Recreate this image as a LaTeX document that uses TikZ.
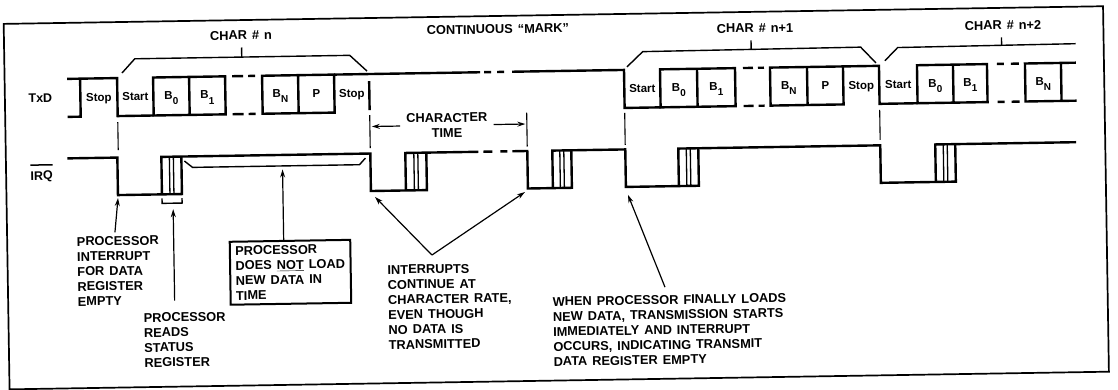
\documentclass[tikz,border=0pt]{standalone}
\usepackage{fontspec}
\setmainfont{Liberation Sans}[WordSpace=1.4]
\usetikzlibrary{arrows.meta}
\newcommand{\bsub}[1]{B\raisebox{-5.5pt}{\fontsize{10}{10}\selectfont #1}}
\newcommand{\myoverline}[1]{\leavevmode\setbox0\hbox{#1}\rlap{\rule[14.3pt]{\wd0}{1.5pt}}\box0}
\begin{document}
\begin{tikzpicture}[x=1pt,y=-1pt,
  notetext/.style={font=\bfseries\fontsize{12.8}{15}\selectfont, align=left, anchor=north west, inner sep=0pt},
  hdr/.style={font=\bfseries\fontsize{12.8}{15}\selectfont, anchor=base, inner sep=0pt},
  bitlbl/.style={font=\bfseries\fontsize{11.5}{12}\selectfont, anchor=base, inner sep=0pt},
  sigline/.style={line width=2.4pt, line join=miter},
  guide/.style={line width=1.1pt},
  brkline/.style={line width=1.4pt},
  barline/.style={line width=1.3pt},
  ptrline/.style={line width=1.2pt, -{Stealth[length=8pt,width=5pt]}},
]
\useasboundingbox (0,0) rectangle (1118,390);
\begin{scope}[rotate around={0.92:(559,195)}, transform shape]
% frame
\draw[line width=1.7pt] (6.5,15) rectangle (1106,380.5);

% signal names
\node[hdr, font=\bfseries\fontsize{12.5}{15}\selectfont] (txd) at (42,94.3) {TxD};
\node[hdr, font=\bfseries\fontsize{12.5}{15}\selectfont] (irq) at (42,171.7) {\myoverline{IRQ}};

% headings
\node[hdr] (chn)  at (243.6,34.6) {CHAR \# n};
\node[hdr] (cont) at (500.6,32.6) {CONTINUOUS ``MARK''};
\node[hdr] (chn1) at (757.7,35.7) {CHAR \# n+1};
\node[hdr] (chn2) at (1005.7,36.7) {CHAR \# n+2};

% character brackets
\draw[brkline] (124,66) -- (137,52) -- (352,52) -- (369,68);
\coordinate (bt0) at (244,52);
\draw[brkline] (bt0) -- ([yshift=-7.5pt]bt0 |- chn.south);
\draw[brkline] (629,68) -- (645,53) -- (863,52) -- (878,68);
\coordinate (bt1) at (753.5,52.5);
\draw[brkline] (bt1) -- ([yshift=-7.5pt]bt1 |- chn1.south);
\draw[brkline] (887,66) -- (900,53) -- (1078,52);
\coordinate (bt2) at (1004,52.5);
\draw[brkline] (bt2) -- ([yshift=-7.5pt]bt2 |- chn2.south);

% ---------------- TxD ----------------
\draw[sigline] (69,71) -- (119,71) -- (119,109) -- (155,109);
\draw[sigline] (82,71) -- (82,109) -- (69,109);
% char n
\draw[sigline] (155,71) rectangle (227,109) (191,71) -- (191,109);
\draw[sigline] (234,71) -- (245,71) (250,71) -- (257,71) (234,109) -- (245,109) (250,109) -- (257,109);
\draw[sigline] (264,71) rectangle (336,109) (300,71) -- (300,109);
\draw[sigline] (336,71) -- (482,71);
\draw[sigline] (371,78) -- (371,107);
\draw[sigline] (486,71) -- (493,71) (499,71) -- (506,71);
\draw[sigline] (514,71) -- (626,71) -- (626,109) -- (662,109);
% char n+1
\draw[sigline] (662,71) rectangle (737,109) (699,71) -- (699,109);
\draw[sigline] (745,71) -- (755,71) (760,71) -- (766,71) (745,109) -- (755,109) (760,109) -- (766,109);
\draw[sigline] (772,71) rectangle (845,109) (809,71) -- (809,109);
\draw[sigline] (845,71) -- (881,71) -- (881,109) -- (919,109);
% char n+2
\draw[sigline] (919,71) rectangle (989,109) (955,71) -- (955,109);
\draw[sigline] (999,71) -- (1006,71) (1013,71) -- (1021,71) (999,109) -- (1006,109) (1013,109) -- (1021,109);
\draw[sigline] (1078,71) -- (1027,71) -- (1027,109) -- (1078,109) (1063,71) -- (1063,109);

% bit labels
\node[bitlbl] (stop0)  at (100.5,94) {Stop};
\node[bitlbl] (start1) at (137,94) {Start};
\node[bitlbl] (b01)    at (173,93) {\bsub{0}};
\node[bitlbl] (b11)    at (209,93) {\bsub{1}};
\node[bitlbl] (bn1)    at (282,93) {\bsub{N}};
\node[bitlbl] (p1)     at (318,94) {P};
\node[bitlbl] (stop1)  at (353.5,94) {Stop};
\node[bitlbl] (start2) at (644,94) {Start};
\node[bitlbl] (b02)    at (680.5,93) {\bsub{0}};
\node[bitlbl] (b12)    at (718,93) {\bsub{1}};
\node[bitlbl] (bn2)    at (790.5,93) {\bsub{N}};
\node[bitlbl] (p2)     at (827,94) {P};
\node[bitlbl] (stop2)  at (863,94) {Stop};
\node[bitlbl] (start3) at (900,94) {Start};
\node[bitlbl] (b03)    at (937,93) {\bsub{0}};
\node[bitlbl] (b13)    at (972,93) {\bsub{1}};
\node[bitlbl] (bn3)    at (1045,93) {\bsub{N}};

% guides between TxD and IRQ
\coordinate (lguide) at (371,122);
\coordinate (rguide) at (528,122);
\draw[guide] (119,115) -- (119,143);
\draw[guide] (371,112) -- (371,145);
\draw[guide] (528,112) -- (528,146);
\draw[guide] (626,114) -- (626,146);
\draw[guide] (881,115) -- (881,145);

% character time
\node[font=\bfseries\fontsize{12.8}{15}\selectfont, align=center, inner sep=0pt] (ctime) at (448,123.5) {CHARACTER\\TIME};
\draw[ptrline] ([xshift=-6pt]ctime.west) -- ([xshift=2pt]ctime.west -| lguide);
\draw[ptrline] ([xshift=6pt]ctime.east) -- ([xshift=-1.5pt]ctime.east -| rguide);

% ---------------- IRQ ----------------
\draw[sigline] (68,150.5) -- (118,150.5) -- (118,188) -- (182,188) -- (182,150.5);
\draw[sigline] (162,188) -- (162,150.5) -- (371,150.5) -- (371,188) -- (427,188) -- (427,150.5);
\draw[sigline] (406,188) -- (406,150.5) -- (479,150.5);
\draw[sigline] (484,150.5) -- (493,150.5) (501,150.5) -- (508,150.5);
\draw[sigline] (513,150.5) -- (528,150.5) -- (528,188) -- (572,188) -- (572,150.5);
\draw[sigline] (553,188) -- (553,150.5) -- (626,150.5) -- (626,188) -- (699,188) -- (699,150.5);
\draw[sigline] (679,188) -- (679,150.5) -- (881,150.5) -- (881,188) -- (956,188) -- (956,150.5);
\draw[sigline] (936,188) -- (936,150.5) -- (1077,150.5);
\foreach \c in {172,416.5,562.5,689,946}{
  \draw[barline] (\c-2,150.5) -- (\c-2,188) (\c+2,150.5) -- (\c+2,188);
}

% brackets on IRQ
\draw[brkline] (185,155) -- (193,161.5) -- (360,161.5) -- (366,155);
\draw[brkline] (162,192) -- (162,197) -- (182,197) -- (182,192);

% ---------------- annotations ----------------
\node[notetext] (pint) at (76,229.2) {PROCESSOR\\INTERRUPT\\FOR DATA\\REGISTER\\EMPTY};
\coordinate (pintT) at (118,191);
\draw[ptrline] ([yshift=4pt]pint.north -| 114.4,0) -- (pintT);

\node[notetext] (prs) at (141.7,306.4) {PROCESSOR\\READS\\STATUS\\REGISTER};
\coordinate (prsT) at (173,203);
\draw[ptrline] ([yshift=12pt]prs.north -| prsT) -- (prsT);

\node[notetext, draw, line width=2pt, inner xsep=5.5pt, inner ysep=4.5pt] (nld) at (228,235.5)
  {PROCESSOR\\DOES \underline{NOT} LOAD\\NEW DATA IN\\TIME};
\coordinate (nldT) at (283,165);
\draw[ptrline] (nld.north -| nldT) -- (nldT);

\node[notetext] (intr) at (386.2,262.4) {INTERRUPTS\\CONTINUE AT\\CHARACTER RATE,\\EVEN THOUGH\\NO DATA IS\\TRANSMITTED};
\coordinate (apex) at (431,253);
\coordinate (intL) at (375,194);
\coordinate (intR) at (525,191.5);
\draw[ptrline] (apex) -- (intL);
\draw[ptrline] (apex) -- (intR);

\node[notetext] (whn) at (550.8,296.9) {WHEN PROCESSOR FINALLY LOADS\\NEW DATA, TRANSMISSION STARTS\\IMMEDIATELY AND INTERRUPT\\OCCURS, INDICATING TRANSMIT\\DATA REGISTER EMPTY};
\coordinate (whnT) at (628,196);
\draw[ptrline] ([yshift=8pt]whn.north -| 663.5,0) -- (whnT);
\end{scope}
\end{tikzpicture}
\end{document}
